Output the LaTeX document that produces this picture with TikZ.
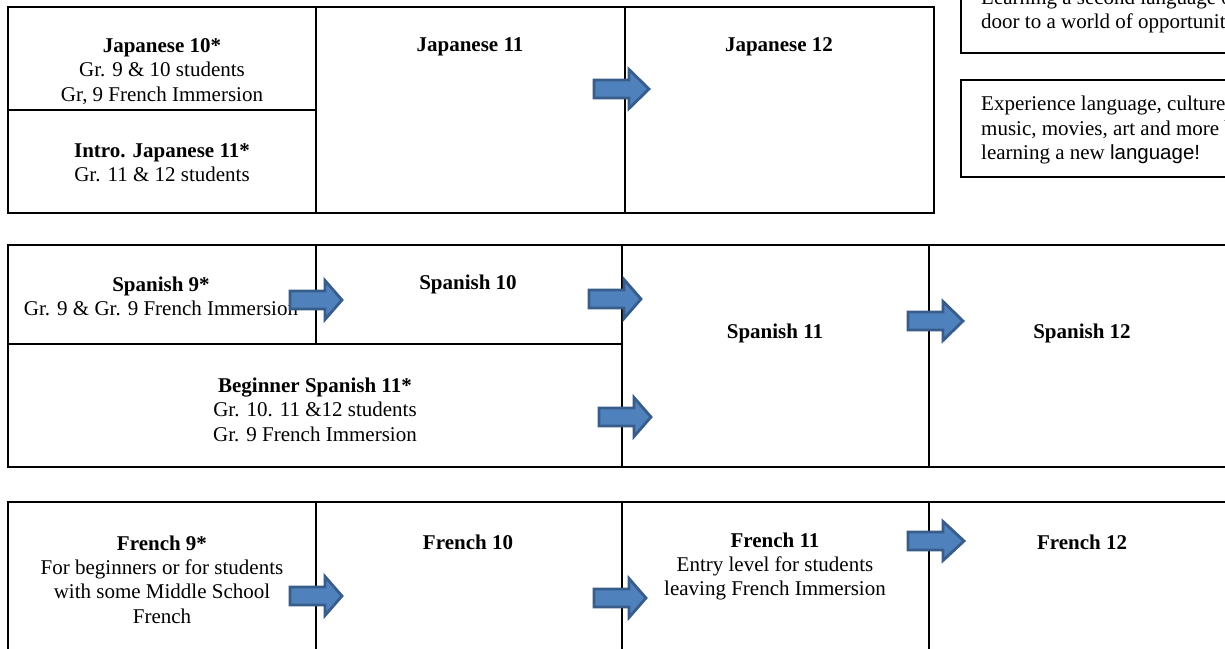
\documentclass[tikz,border=0pt]{standalone}
\usepackage{fontspec}
\setmainfont{Liberation Serif}
\newfontfamily\arialfont{Liberation Sans}
\begin{document}
\begin{tikzpicture}[x=1pt,y=-1pt,
  grid/.style={line width=1.8pt,black},
  note/.style={line width=1.3pt,black},
  lbl/.style={inner sep=0pt,align=center,yshift=-2.5pt,font=\fontsize{21}{24.4}\selectfont},
  lbll/.style={inner sep=0pt,align=left,anchor=west,yshift=-2pt,font=\fontsize{21}{24.4}\selectfont},
  arrowstyle/.style={draw={rgb,255:red,56;green,93;blue,138},fill={rgb,255:red,79;green,129;blue,189},line width=2.8pt,line join=miter},
  pics/blockarrow/.style={code={
    \path[arrowstyle] (0,-9) -- (35,-9) -- (35,-19.5) -- (#1,0) -- (35,19.5) -- (35,9) -- (0,9) -- cycle;}},
  pics/blockarrow/.default=55
]
\useasboundingbox (0,0) rectangle (1225,648);
\clip (0,0) rectangle (1225,648);
\fill[white] (0,0) rectangle (1225,648);

% ---------- Japanese row ----------
\draw[grid] (8,7) rectangle (934,213);
\draw[grid] (316,7) -- (316,213);
\draw[grid] (625,7) -- (625,213);
\draw[grid] (8,110) -- (316,110);
\node[lbl] (j10) at (162,69) {\textbf{Japanese 10*}\\Gr. 9 \& 10 students\\Gr, 9 French Immersion};
\node[lbl] (ij11) at (162,160) {\textbf{Intro. Japanese 11*}\\Gr. 11 \& 12 students};
\node[lbl] (j11) at (470,44) {\textbf{Japanese 11}};
\node[lbl] (j12) at (779,44) {\textbf{Japanese 12}};
\pic at (594,89) {blockarrow};

% ---------- notes ----------
\draw[note] (961,-40) rectangle (1260,53);
\node[lbll] (n1a) at (981,-3) {Learning a second language opens the};
\node[lbll] (n1b) at (981,21) {door to a world of opportunities!};
\draw[note] (961,80) rectangle (1260,177);
\node[lbll] (n2) at (981,128) {Experience language, culture,\\music, movies, art and more by\\learning a new {\arialfont\fontsize{20.5}{24.4}\selectfont language!}};

% ---------- Spanish row ----------
\draw[grid] (8,245) rectangle (1260,467);
\draw[grid] (316,245) -- (316,344);
\draw[grid] (622,245) -- (622,467);
\draw[grid] (929,245) -- (929,467);
\draw[grid] (8,344) -- (622,344);
\node[lbl] (s9) at (161,294) {\textbf{Spanish 9*}\\Gr. 9 \& Gr. 9 French Immersion};
\node[lbl] (s10) at (468,282) {\textbf{Spanish 10}};
\node[lbl] (bs11) at (315,407) {\textbf{Beginner Spanish 11*}\\Gr. 10. 11 \&12 students\\Gr. 9 French Immersion};
\node[lbl] (s11) at (775,331) {\textbf{Spanish 11}};
\node[lbl] (s12) at (1082,331) {\textbf{Spanish 12}};
\pic at (290,300) {blockarrow=52};
\pic at (589,299) {blockarrow=52};
\pic at (599,417) {blockarrow=52};
\pic at (908,321) {blockarrow=55};

% ---------- French row ----------
\draw[grid] (8,502) rectangle (1260,700);
\draw[grid] (316,502) -- (316,700);
\draw[grid] (622,502) -- (622,700);
\draw[grid] (929,502) -- (929,700);
\node[lbl] (f9) at (162,577) {\textbf{French 9*}\\For beginners or for students\\with some Middle School\\French};
\node[lbl] (f10) at (468,540) {\textbf{French 10}};
\node[lbl] (f11) at (775,564) {\textbf{French 11}\\Entry level for students\\leaving French Immersion};
\node[lbl] (f12) at (1082,540) {\textbf{French 12}};
\pic at (290,596) {blockarrow=52};
\pic at (594,598) {blockarrow=52};
\pic at (908,541) {blockarrow=56};
\end{tikzpicture}
\end{document}
